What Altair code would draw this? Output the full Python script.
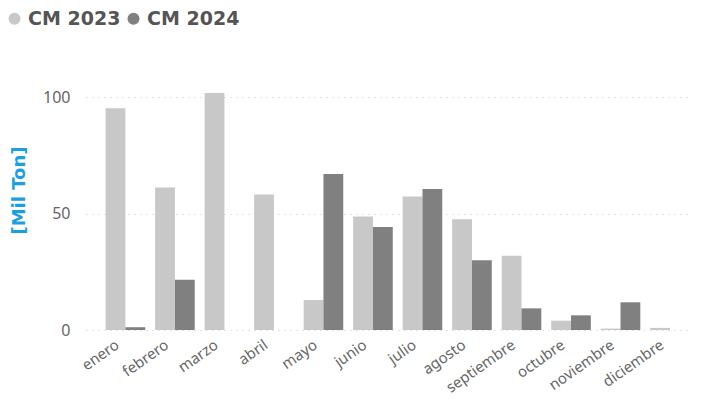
import altair as alt
import pandas as pd

months = ["enero", "febrero", "marzo", "abril", "mayo", "junio", "julio",
          "agosto", "septiembre", "octubre", "noviembre", "diciembre"]
series = ["CM 2023", "CM 2024"]
cm2023 = [95.3, 61.2, 101.8, 58.2, 12.9, 48.8, 57.4, 47.6, 31.9, 4.0, 0.6, 0.9]
cm2024 = [1.2, 21.6, None, None, 67.0, 44.3, 60.6, 30.0, 9.3, 6.3, 11.9, None]
colors = ["#C8C8C8", "#808080"]

rows = []
for m, a, b in zip(months, cm2023, cm2024):
    rows.append({"mes": m, "serie": series[0], "valor": a})
    rows.append({"mes": m, "serie": series[1], "valor": b})
df = pd.DataFrame(rows)

font = "Segoe UI, Noto Sans, Open Sans, sans-serif"

chart = alt.Chart(df).mark_bar().encode(
    x=alt.X("mes:N", sort=months,
            scale=alt.Scale(paddingInner=0.2, paddingOuter=0.22, align=0.9),
            axis=alt.Axis(title=None, labelAngle=-35, labelAlign="right",
                          labelBaseline="top", labelFontSize=15, labelColor="#666666",
                          labelFont=font, domain=False, ticks=False, labelPadding=7,
                          labelOffset=-12, grid=False)),
    xOffset=alt.XOffset("serie:N", sort=series),
    y=alt.Y("valor:Q", scale=alt.Scale(domain=[0, 110], nice=False),
            axis=alt.Axis(values=[0, 50, 100], title="[Mil Ton]",
                          titleColor="#1A9FE3", titleFont="DejaVu Sans",
                          titleFontSize=18, titleFontWeight="bold",
                          titleAngle=270, titleAlign="center", titleBaseline="middle",
                          titleX=-67, titleY=116,
                          labelFontSize=16, labelColor="#666666", labelFont=font,
                          labelPadding=16, domain=False, ticks=False,
                          grid=True, gridColor="#C8C8C8", gridDash=[1, 5],
                          gridWidth=1)),
    color=alt.Color("serie:N", sort=series,
                    scale=alt.Scale(domain=series, range=colors),
                    legend=alt.Legend(title=None, orient="none", direction="horizontal",
                                      legendX=-81, legendY=-65, symbolType="circle",
                                      symbolSize=144, symbolStrokeWidth=0,
                                      labelFont="DejaVu Sans", labelFontSize=19,
                                      labelFontWeight="bold", labelColor="#555555",
                                      labelOffset=4, columnPadding=3, padding=0)),
).properties(
    width=606, height=256,
    autosize=alt.AutoSizeParams(type="none"),
    padding={"left": 78, "top": 66, "right": 0, "bottom": 74},
).configure_view(stroke=None)

chart.save("out.html", embed_options={"renderer": "svg", "actions": False})
